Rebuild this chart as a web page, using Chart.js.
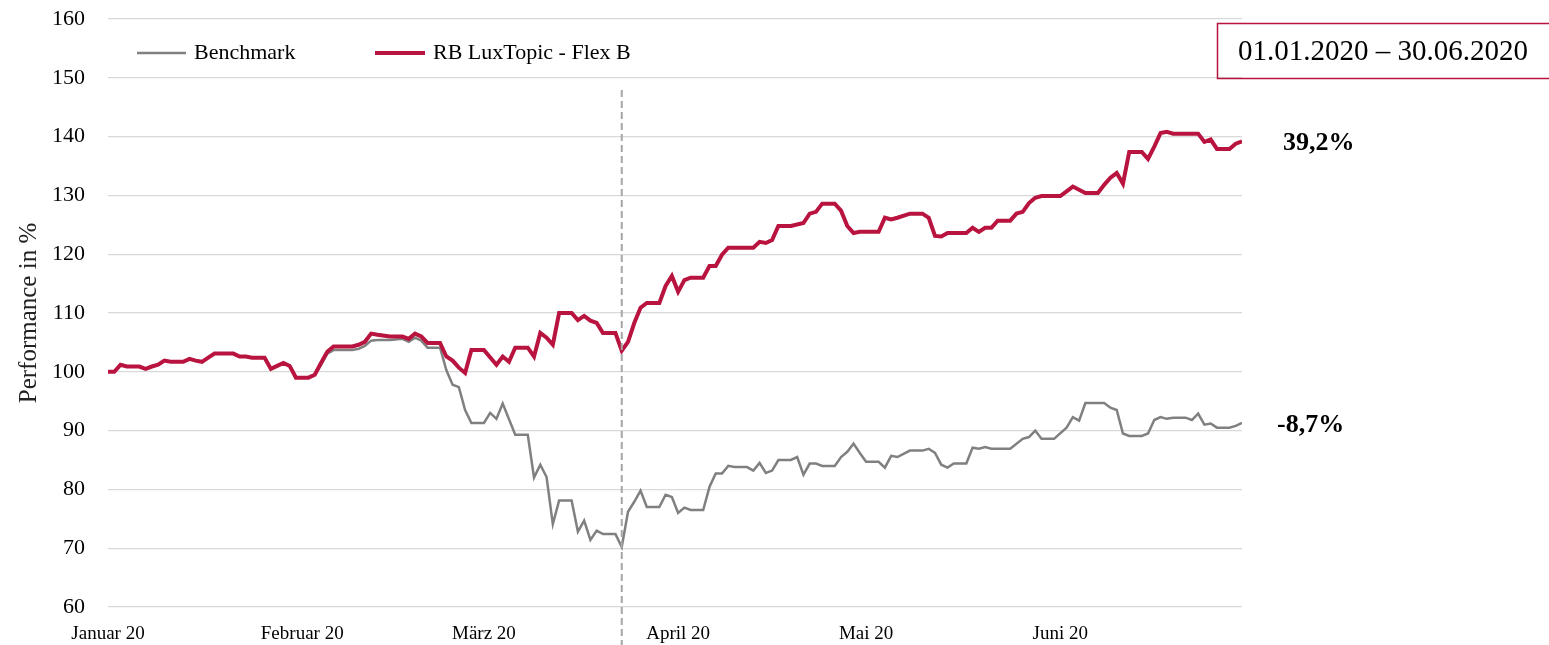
<!DOCTYPE html>
<html>
<head>
<meta charset="utf-8">
<script src="https://cdn.jsdelivr.net/npm/chart.js@4/dist/chart.umd.min.js"></script>
<style>
  html, body { margin: 0; padding: 0; background: #fff; }
  #wrap { width: 1549px; height: 645px; position: relative; }
</style>
</head>
<body>
<div id="wrap"><canvas id="perfChart"></canvas></div>
<script>
// Tage seit 01.01.2020 (0 = 01.01.2020, 181 = 30.06.2020)
const monthStarts = [0, 31, 60, 91, 121, 152];
const monthLabels = ['Januar 20', 'Februar 20', 'März 20', 'April 20', 'Mai 20', 'Juni 20'];
const yTicks = [60, 70, 80, 90, 100, 110, 120, 130, 140, 150, 160];
const markerDay = 82; // 23.03.2020

const fundLabel = 'RB LuxTopic - Flex B';
const benchLabel = 'Benchmark';
const fundResult = '39,2%';
const benchResult = '-8,7%';
const periodText = '01.01.2020 \u2013 30.06.2020';

const fundDays = [0, 1, 2, 3, 5, 6, 7, 8, 9, 10, 12, 13, 14, 15, 16, 17, 20, 21, 22, 23, 25, 26, 27, 28, 29, 30, 32, 33, 34, 35, 36, 39, 40, 41, 42, 43, 45,
  47, 48, 49, 50, 51, 53, 54, 55, 56, 57, 58, 60, 62, 63, 64, 65, 67, 68, 69, 70, 71, 72, 74, 75, 76, 77, 78, 79, 81, 82,
  83, 84, 85, 86, 88, 89, 90, 91, 92, 93, 95, 96, 97, 98, 99, 103, 104, 105, 106, 107, 109, 111, 112, 113, 114, 116, 117, 118, 119, 120, 123,
  124, 125, 126, 128, 130, 131, 132, 133, 134, 137, 138, 139, 140, 141, 142, 144, 145, 146, 147, 148, 149, 152, 153, 154, 156, 158,
  159, 160, 161, 162, 163, 165, 166, 167, 168, 169, 170, 174, 175, 176, 177, 179, 180, 181];
const fundValues = [100, 100, 101.2, 100.9, 100.9, 100.5, 100.9, 101.2, 101.9, 101.7, 101.7, 102.2, 101.9, 101.7, 102.4, 103.1, 103.1, 102.6, 102.6, 102.4, 102.4, 100.5, 101.0, 101.5, 101.0, 99.0, 99.0, 99.5, 101.5, 103.4, 104.3, 104.3, 104.6, 105.1, 106.5, 106.3, 106.0,
  106.0, 105.6, 106.5, 106.0, 104.9, 104.9, 102.6, 101.9, 100.7, 99.8, 103.7, 103.7, 101.2, 102.6, 101.7, 104.1, 104.1, 102.6, 106.6, 105.8, 104.6, 110.0, 110.0, 108.8, 109.5, 108.7, 108.3, 106.6, 106.6, 103.6,
  105.1, 108.3, 110.9, 111.7, 111.7, 114.6, 116.3, 113.6, 115.6, 116.0, 116.0, 118.0, 118.0, 119.9, 121.1, 121.1, 122.1, 121.9, 122.4, 124.8, 124.8, 125.3, 126.9, 127.2, 128.6, 128.6, 127.4, 124.8, 123.6, 123.8, 123.8,
  126.2, 125.9, 126.2, 126.9, 126.9, 126.2, 123.1, 123.0, 123.6, 123.6, 124.5, 123.8, 124.5, 124.5, 125.7, 125.7, 126.9, 127.2, 128.7, 129.6, 129.9, 129.9, 130.7, 131.5, 130.4, 130.4,
  131.8, 133.0, 133.8, 132.0, 137.4, 137.4, 136.2, 138.3, 140.6, 140.8, 140.5, 140.5, 139.1, 139.5, 137.9, 137.9, 138.8, 139.2];

const benchDays = [0, 1, 2, 3, 5, 6, 7, 8, 9, 10, 12, 13, 14, 15, 16, 17, 20, 21, 22, 23, 25, 26, 27, 28, 29, 30, 32, 33, 34, 35, 36, 39, 40, 41, 42, 43, 45,
  47, 48, 49, 50, 51, 53, 54, 55, 56, 57, 58, 60, 61, 62, 63, 65, 67, 68, 69, 70, 71, 72, 74, 75, 76, 77, 78, 79, 81, 82,
  83, 84, 85, 86, 88, 89, 90, 91, 92, 93, 95, 96, 97, 98, 99, 100, 102, 103, 104, 105, 106, 107, 109, 110, 111, 112, 113, 114, 116, 117, 118, 119, 120, 121, 123,
  124, 125, 126, 128, 130, 131, 132, 133, 134, 135, 137, 138, 139, 140, 141, 144, 146, 147, 148, 149, 151, 153, 154, 155, 156, 159,
  160, 161, 162, 163, 165, 166, 167, 168, 169, 170, 172, 173, 174, 175, 176, 177, 179, 180, 181];
const benchValues = [100, 100, 101.2, 100.9, 100.9, 100.5, 100.9, 101.2, 101.9, 101.7, 101.7, 102.2, 101.9, 101.7, 102.4, 103.1, 103.1, 102.6, 102.6, 102.4, 102.4, 100.5, 101.0, 101.5, 101.0, 99.0, 99.0, 99.5, 101.2, 103.1, 103.7, 103.7, 103.9, 104.4, 105.3, 105.4, 105.4,
  105.6, 105.1, 105.8, 105.3, 104.1, 104.1, 100.3, 97.8, 97.4, 93.5, 91.3, 91.3, 93.0, 92.0, 94.6, 89.3, 89.3, 82.0, 84.2, 82.1, 74.1, 78.1, 78.1, 72.8, 74.7, 71.4, 73.0, 72.4, 72.4, 70.2,
  76.2, 77.9, 79.8, 77.0, 77.0, 79.1, 78.7, 76.0, 76.9, 76.5, 76.5, 80.4, 82.7, 82.7, 84.0, 83.8, 83.8, 83.2, 84.5, 82.8, 83.2, 85.0, 85.0, 85.5, 82.5, 84.4, 84.4, 84.0, 84.0, 85.5, 86.4, 87.8, 86.2, 84.7, 84.7,
  83.7, 85.7, 85.5, 86.6, 86.6, 86.9, 86.2, 84.2, 83.7, 84.4, 84.4, 87.1, 86.9, 87.2, 86.9, 86.9, 88.6, 88.9, 90.0, 88.6, 88.6, 90.5, 92.3, 91.7, 94.7, 94.7,
  93.9, 93.5, 89.5, 89.1, 89.1, 89.5, 91.8, 92.3, 92.0, 92.2, 92.2, 91.8, 92.9, 91.0, 91.2, 90.5, 90.5, 90.8, 91.3];

const fundColor = '#b8143f';
const benchColor = '#808080';
const serif = "'Liberation Serif', 'DejaVu Serif', serif";

const toPoints = (days, values) => days.map((d, i) => ({ x: d, y: values[i] }));

// Zusatzelemente: Markierungslinie, Legende, Endwerte, Zeitraum-Box
const overlayPlugin = {
  id: 'overlay',
  afterDatasetsDraw(chart) {
    const { ctx, scales } = chart;
    const x = scales.x.getPixelForValue(markerDay);
    ctx.save();
    ctx.strokeStyle = '#a6a6a6';
    ctx.lineWidth = 2;
    ctx.setLineDash([7, 4]);
    ctx.beginPath();
    ctx.moveTo(x, 90);
    ctx.lineTo(x, chart.height);
    ctx.stroke();
    ctx.restore();
  },
  afterDraw(chart) {
    const { ctx, scales } = chart;
    const ds = chart.data.datasets;
    ctx.save();

    // Legende
    const items = [
      { ds: ds[1], x0: 137, x1: 186 },
      { ds: ds[0], x0: 375, x1: 425 }
    ];
    ctx.font = '22px ' + serif;
    ctx.textBaseline = 'middle';
    ctx.textAlign = 'left';
    items.forEach(it => {
      ctx.strokeStyle = it.ds.borderColor;
      ctx.lineWidth = it.ds.borderWidth;
      ctx.beginPath();
      ctx.moveTo(it.x0, 53);
      ctx.lineTo(it.x1, 53);
      ctx.stroke();
      ctx.fillStyle = '#000';
      ctx.fillText(it.ds.label, it.x1 + 8, 53);
    });

    // Endwerte
    ctx.font = 'bold 26px ' + serif;
    ctx.fillStyle = '#000';
    ctx.fillText(fundResult, 1283, scales.y.getPixelForValue(fundValues[fundValues.length - 1]) + 2);
    ctx.fillText(benchResult, 1277, scales.y.getPixelForValue(benchValues[benchValues.length - 1]) + 2);

    // Zeitraum
    ctx.strokeStyle = fundColor;
    ctx.lineWidth = 1.5;
    ctx.strokeRect(1217.5, 23.5, 340, 55);
    ctx.font = '29px ' + serif;
    ctx.textAlign = 'center';
    ctx.fillText(periodText, 1383, 52);
    ctx.restore();
  }
};

new Chart(document.getElementById('perfChart'), {
  type: 'line',
  data: {
    datasets: [
      {
        label: fundLabel,
        data: toPoints(fundDays, fundValues),
        borderColor: fundColor,
        borderWidth: 4,
        pointRadius: 0,
        tension: 0,
        order: 0
      },
      {
        label: benchLabel,
        data: toPoints(benchDays, benchValues),
        borderColor: benchColor,
        borderWidth: 2.5,
        pointRadius: 0,
        tension: 0,
        order: 1
      }
    ]
  },
  options: {
    responsive: true,
    maintainAspectRatio: false,
    animation: false,
    layout: { padding: { left: 0, right: 307, top: 19, bottom: 0 } },
    plugins: {
      legend: { display: false },
      tooltip: { enabled: false }
    },
    scales: {
      x: {
        type: 'linear',
        min: 0,
        max: 181,
        afterBuildTicks: scale => { scale.ticks = monthStarts.map(v => ({ value: v })); },
        afterFit: scale => { scale.height = 38; scale.paddingLeft = 0; scale.paddingRight = 0; },
        ticks: {
          autoSkip: false,
          maxRotation: 0,
          padding: 8,
          color: '#000',
          font: { family: serif, size: 19 },
          callback: v => monthLabels[monthStarts.indexOf(v)]
        },
        grid: { display: false },
        border: { display: false }
      },
      y: {
        min: 60,
        max: 160,
        afterBuildTicks: scale => { scale.ticks = yTicks.map(v => ({ value: v })); },
        afterFit: scale => { scale.width = 108; scale.paddingTop = 0; scale.paddingBottom = 0; },
        ticks: {
          padding: 23,
          color: '#000',
          font: { family: serif, size: 22 }
        },
        grid: { color: '#d9d9d9', lineWidth: 1.3, drawTicks: false },
        border: { display: false },
        title: {
          display: true,
          text: 'Performance in %',
          color: '#222',
          font: { family: serif, size: 25 },
          padding: { top: 14, bottom: 0 }
        }
      }
    }
  },
  plugins: [overlayPlugin]
});
</script>
</body>
</html>
